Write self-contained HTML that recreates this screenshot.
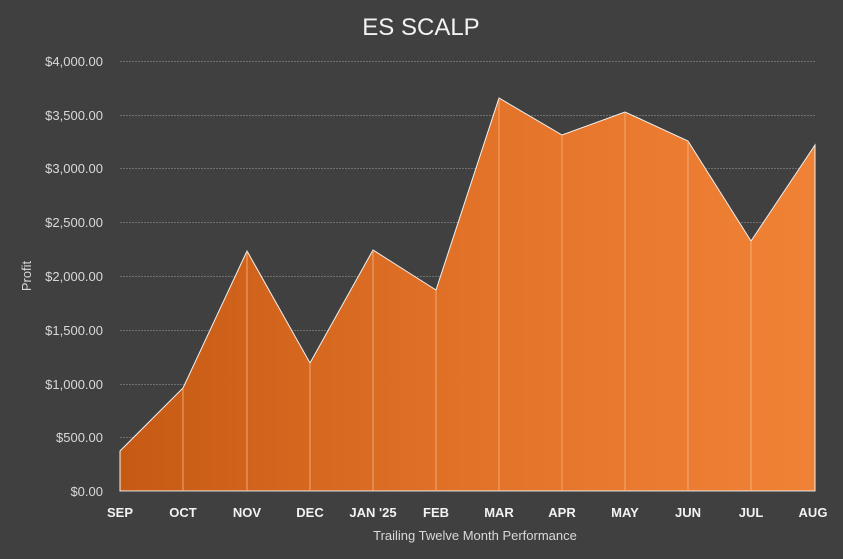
<!DOCTYPE html>
<html><head><style>
body{margin:0;background:#404040;}
svg{display:block;font-family:"Liberation Sans",Arial,sans-serif;}
</style></head><body>
<svg width="843" height="559" viewBox="0 0 843 559" xmlns="http://www.w3.org/2000/svg">
<defs>
<linearGradient id="g" x1="120" y1="0" x2="815" y2="0" gradientUnits="userSpaceOnUse">
<stop offset="0" stop-color="#c65a14"/>
<stop offset="0.5" stop-color="#e27228"/>
<stop offset="1" stop-color="#f08236"/>
</linearGradient>
</defs>
<rect width="843" height="559" fill="#404040"/>
<text x="421" y="35" fill="#f2f2f2" font-size="24" text-anchor="middle">ES SCALP</text>
<g stroke="#707070" stroke-width="1" stroke-dasharray="2,1">
<line x1="120" x2="815" y1="61.5" y2="61.5"/>
<line x1="120" x2="815" y1="115.5" y2="115.5"/>
<line x1="120" x2="815" y1="168.5" y2="168.5"/>
<line x1="120" x2="815" y1="222.5" y2="222.5"/>
<line x1="120" x2="815" y1="276.5" y2="276.5"/>
<line x1="120" x2="815" y1="330.5" y2="330.5"/>
<line x1="120" x2="815" y1="384.5" y2="384.5"/>
<line x1="120" x2="815" y1="437.5" y2="437.5"/>
</g>
<polygon fill="url(#g)" stroke="#f2f2f2" stroke-width="1" points="120,491 120,451 183,388 247,251 310,363 373,250 436,290 499,98 562,135 625,112 688,141 751,241 815,145 815,491"/>
<g stroke="#f4b88a" stroke-width="1" opacity="0.8">
<line x1="183" x2="183" y1="388" y2="491"/>
<line x1="247" x2="247" y1="251" y2="491"/>
<line x1="310" x2="310" y1="363" y2="491"/>
<line x1="373" x2="373" y1="250" y2="491"/>
<line x1="436" x2="436" y1="290" y2="491"/>
<line x1="499" x2="499" y1="98" y2="491"/>
<line x1="562" x2="562" y1="135" y2="491"/>
<line x1="625" x2="625" y1="112" y2="491"/>
<line x1="688" x2="688" y1="141" y2="491"/>
<line x1="751" x2="751" y1="241" y2="491"/>
</g>
<line x1="120" x2="815" y1="491.5" y2="491.5" stroke="#8a8a8a"/>
<g fill="#d9d9d9" font-size="13" text-anchor="end">
<text x="103" y="66">$4,000.00</text>
<text x="103" y="120">$3,500.00</text>
<text x="103" y="173">$3,000.00</text>
<text x="103" y="227">$2,500.00</text>
<text x="103" y="281">$2,000.00</text>
<text x="103" y="335">$1,500.00</text>
<text x="103" y="389">$1,000.00</text>
<text x="103" y="442">$500.00</text>
<text x="103" y="496">$0.00</text>
</g>
<g fill="#f2f2f2" font-size="13" font-weight="bold" text-anchor="middle">
<text x="120" y="517">SEP</text>
<text x="183" y="517">OCT</text>
<text x="247" y="517">NOV</text>
<text x="310" y="517">DEC</text>
<text x="373" y="517">JAN '25</text>
<text x="436" y="517">FEB</text>
<text x="499" y="517">MAR</text>
<text x="562" y="517">APR</text>
<text x="625" y="517">MAY</text>
<text x="688" y="517">JUN</text>
<text x="751" y="517">JUL</text>
<text x="813" y="517">AUG</text>
</g>
<text x="475" y="540" fill="#d9d9d9" font-size="13" text-anchor="middle">Trailing Twelve Month Performance</text>
<text transform="translate(31,276) rotate(-90)" fill="#d9d9d9" font-size="13" text-anchor="middle">Profit</text>
</svg>
</body></html>
